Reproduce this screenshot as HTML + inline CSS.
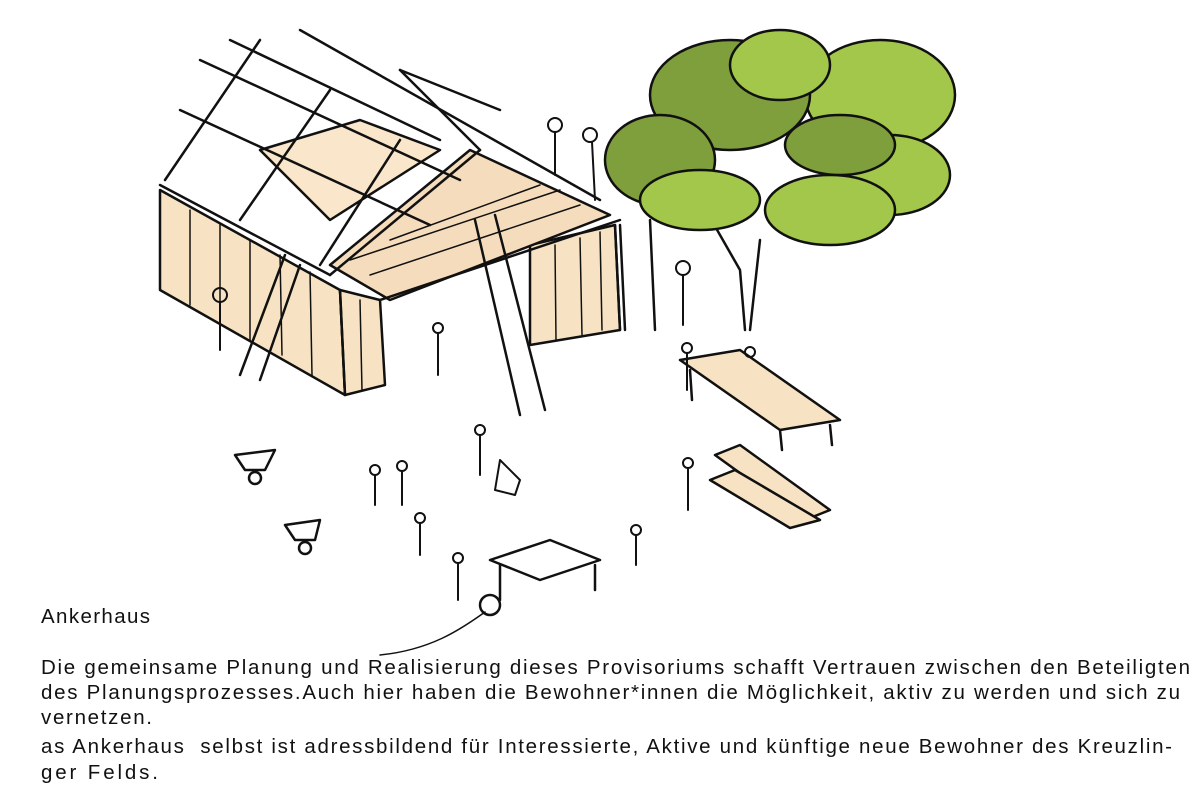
<!DOCTYPE html>
<html><head><meta charset="utf-8"><style>
html,body{margin:0;padding:0;background:#fff}
svg{display:block}
text{font-family:"Liberation Sans","DejaVu Sans",sans-serif;font-size:20.5px;fill:#111}
</style></head><body>
<svg width="1200" height="800" viewBox="0 0 1200 800">
<g stroke="#111" stroke-width="2.5" fill="none" stroke-linecap="round" stroke-linejoin="round">
<polygon points="160,190 340,290 345,395 160,290" fill="#f7e3c3"/>
<polygon points="530,245 615,225 620,330 530,345" fill="#f7e3c3"/>
<polygon points="340,290 380,300 385,385 345,395" fill="#f7e3c3"/>
<polygon points="330,265 470,150 610,215 390,300" fill="#f5dcbc"/>
<polygon points="260,150 360,120 440,150 330,220" fill="#f9e6cb"/>
<line x1="160" y1="185" x2="330" y2="275"/>
<line x1="165" y1="180" x2="260" y2="40"/>
<line x1="240" y1="220" x2="330" y2="90"/>
<line x1="320" y1="265" x2="400" y2="140"/>
<line x1="200" y1="60" x2="460" y2="180"/>
<line x1="180" y1="110" x2="430" y2="225"/>
<line x1="230" y1="40" x2="440" y2="140"/>
<line x1="300" y1="30" x2="600" y2="200"/>
<line x1="330" y1="275" x2="480" y2="150"/>
<line x1="380" y1="300" x2="620" y2="220"/>
<line x1="400" y1="70" x2="500" y2="110"/>
<line x1="400" y1="70" x2="480" y2="150"/>
<g stroke-width="1.5">
<line x1="190" y1="210" x2="190" y2="305"/><line x1="220" y1="225" x2="220" y2="320"/>
<line x1="250" y1="240" x2="250" y2="340"/><line x1="280" y1="255" x2="282" y2="355"/>
<line x1="310" y1="272" x2="312" y2="375"/><line x1="360" y1="300" x2="362" y2="390"/>
<line x1="555" y1="245" x2="556" y2="340"/><line x1="580" y1="238" x2="582" y2="335"/>
<line x1="600" y1="232" x2="602" y2="330"/>
<line x1="350" y1="260" x2="560" y2="190"/><line x1="370" y1="275" x2="580" y2="205"/>
<line x1="390" y1="240" x2="540" y2="185"/>
</g>
<line x1="475" y1="220" x2="520" y2="415"/><line x1="495" y1="215" x2="545" y2="410"/>
<line x1="240" y1="375" x2="285" y2="255"/><line x1="260" y1="380" x2="300" y2="265"/>
<line x1="620" y1="225" x2="625" y2="330"/><line x1="650" y1="220" x2="655" y2="330"/>
<line x1="340" y1="290" x2="345" y2="395"/><line x1="615" y1="225" x2="620" y2="330"/>
<polygon points="680,360 740,350 840,420 780,430" fill="#f7e3c3"/>
<line x1="690" y1="370" x2="692" y2="400"/><line x1="780" y1="430" x2="782" y2="450"/><line x1="830" y1="425" x2="832" y2="445"/>
<polygon points="715,455 740,445 830,510 805,520" fill="#f7e3c3"/>
<polygon points="710,480 735,470 820,520 790,528" fill="#f7e3c3"/>
<polygon points="490,560 550,540 600,560 540,580" fill="#fff"/>
<line x1="500" y1="565" x2="500" y2="600"/><line x1="595" y1="565" x2="595" y2="590"/>
<circle cx="490" cy="605" r="10"/>
<path d="M485,612 C460,630 430,650 380,655" stroke-width="1.5"/>
<path d="M235,455 L275,450 L265,470 L245,470Z"/><circle cx="255" cy="478" r="6"/>
<path d="M285,525 L320,520 L315,540 L295,540Z"/><circle cx="305" cy="548" r="6"/>
<path d="M700,200 L740,270 L745,330 M760,240 L750,330"/>
<g stroke-width="2">
<circle cx="555" cy="125" r="7"/><line x1="555" y1="132" x2="555" y2="175"/>
<circle cx="590" cy="135" r="7"/><line x1="592" y1="142" x2="595" y2="200"/>
<circle cx="220" cy="295" r="7"/><line x1="220" y1="302" x2="220" y2="350"/>
<circle cx="438" cy="328" r="5"/><line x1="438" y1="333" x2="438" y2="375"/>
<circle cx="683" cy="268" r="7"/><line x1="683" y1="275" x2="683" y2="325"/>
<circle cx="687" cy="348" r="5"/><line x1="687" y1="353" x2="687" y2="390"/>
<circle cx="750" cy="352" r="5"/>
<circle cx="480" cy="430" r="5"/><line x1="480" y1="435" x2="480" y2="475"/>
<circle cx="375" cy="470" r="5"/><line x1="375" y1="475" x2="375" y2="505"/>
<circle cx="402" cy="466" r="5"/><line x1="402" y1="471" x2="402" y2="505"/>
<circle cx="420" cy="518" r="5"/><line x1="420" y1="523" x2="420" y2="555"/>
<circle cx="458" cy="558" r="5"/><line x1="458" y1="563" x2="458" y2="600"/>
<circle cx="636" cy="530" r="5"/><line x1="636" y1="535" x2="636" y2="565"/>
<circle cx="688" cy="463" r="5"/><line x1="688" y1="468" x2="688" y2="510"/>
<path d="M500,460 L520,480 L515,495 L495,490Z"/>
</g>
</g>
<g stroke="#111" stroke-width="2.5">
<ellipse cx="880" cy="95" rx="75" ry="55" fill="#a2c74a"/>
<ellipse cx="730" cy="95" rx="80" ry="55" fill="#7e9f3c"/>
<ellipse cx="660" cy="160" rx="55" ry="45" fill="#7e9f3c"/>
<ellipse cx="780" cy="65" rx="50" ry="35" fill="#a2c74a"/>
<ellipse cx="890" cy="175" rx="60" ry="40" fill="#a2c74a"/>
<ellipse cx="830" cy="210" rx="65" ry="35" fill="#a2c74a"/>
<ellipse cx="700" cy="200" rx="60" ry="30" fill="#a2c74a"/>
<ellipse cx="840" cy="145" rx="55" ry="30" fill="#7e9f3c"/>
</g>
<text x="41" y="623" textLength="109">Ankerhaus</text>
<text x="41" y="674" textLength="1149">Die gemeinsame Planung und Realisierung dieses Provisoriums schafft Vertrauen zwischen den Beteiligten</text>
<text x="41" y="699" textLength="1139">des Planungsprozesses.Auch hier haben die Bewohner*innen die Möglichkeit, aktiv zu werden und sich zu</text>
<text x="41" y="724" textLength="111">vernetzen.</text>
<text x="41" y="753" textLength="1131" xml:space="preserve">as Ankerhaus  selbst ist adressbildend für Interessierte, Aktive und künftige neue Bewohner des Kreuzlin-</text>
<text x="41" y="779" textLength="117">ger Felds.</text>
</svg>
</body></html>
